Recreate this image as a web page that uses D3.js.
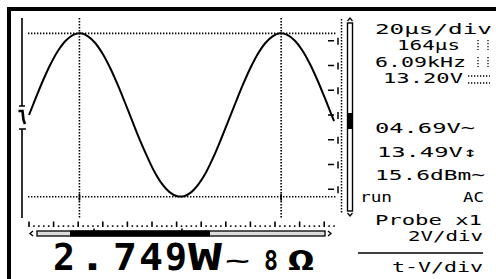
<!DOCTYPE html>
<html>
<head>
<meta charset="utf-8">
<script src="https://cdn.jsdelivr.net/npm/d3@7.9.0/dist/d3.min.js"></script>
<style>
  html, body { margin: 0; padding: 0; background: #fff; }
  svg { display: block; }
  text { font-family: "DejaVu Sans Mono", monospace; fill: #000; }
</style>
</head>
<body>
<svg id="scope" width="496" height="279"></svg>
<script>
// waveform: time in µs, amplitude in volts
const timeUs = [0, 6, 12, 18, 24, 30, 36, 42, 48, 54, 60, 66, 72, 78, 84, 90, 96, 102, 108, 114,
  120, 126, 132, 138, 144, 150, 156, 162, 168, 174, 180, 186, 192, 198, 204, 210, 216, 222,
  228, 234, 240, 246, 248];
const volts = [0.0, 1.5, 2.93, 4.2, 5.25, 6.02, 6.48, 6.6, 6.36, 5.8, 4.93, 3.8, 2.47, 1.01,
  -0.5, -1.99, -3.35, -4.59, -5.55, -6.21, -6.55, -6.56, -6.23, -5.57, -4.62, -3.39, -1.98,
  -0.5, 1.01, 2.47, 3.8, 4.93, 5.8, 6.36, 6.6, 6.48, 6.02, 5.25, 4.2, 2.93, 1.5, 0.0, -0.5];

// cursors
const cursorTimes = [41, 205];
const cursorVolts = [6.6, -6.6];

// readout panel
const readoutLines = ['20µs/div', '164µs', '6.09kHz', '13.20V', '04.69V~', '13.49V↕',
  '15.6dBm~', 'run', 'AC', 'Probe x1', '2V/div', 't-V/div'];
const bigReading = ['2', '.', '7', '4', '9', 'W'];

const svg = d3.select('#scope');

const x = d3.scaleLinear().domain([0, 250]).range([29, 336.5]);
const y = d3.scaleLinear().domain([-8, 8]).range([214, 16]);

// outer frame
svg.append('rect').attr('x', 7).attr('y', 7).attr('width', 489).attr('height', 4).attr('fill', '#000');
svg.append('rect').attr('x', 7).attr('y', 7).attr('width', 4).attr('height', 272).attr('fill', '#000');

// left axis line with ground marker
const g0 = y(0);
svg.append('path')
  .attr('d', `M22,18V${g0 - 9}M19,${g0 - 9}H25M19,${g0 + 14}H26M22,${g0 + 14}V218`)
  .attr('stroke', '#000').attr('stroke-width', 1.6).attr('fill', 'none');
svg.append('path')
  .attr('d', `M18.5,${g0 - 4}H22.5L23.5,${g0 + 5}L25,${g0 + 9}`)
  .attr('stroke', '#000').attr('stroke-width', 2.6).attr('fill', 'none');

// cursor lines (dotted)
svg.selectAll('.hcur').data(cursorVolts).join('line')
  .attr('x1', 28).attr('x2', 337)
  .attr('y1', d => y(d)).attr('y2', d => y(d))
  .attr('stroke', '#000').attr('stroke-width', 1.6).attr('stroke-dasharray', '1.4 1.6');
svg.selectAll('.vcur').data(cursorTimes).join('line')
  .attr('x1', d => x(d)).attr('x2', d => x(d))
  .attr('y1', 18).attr('y2', 218)
  .attr('stroke', '#000').attr('stroke-width', 1.6).attr('stroke-dasharray', '1.4 1.6');
// small solid marks where cursors cross the bottom line
svg.selectAll('.cross').data(cursorTimes).join('line')
  .attr('x1', d => x(d)).attr('x2', d => x(d))
  .attr('y1', y(-6.6) - 3).attr('y2', y(-6.6) + 4)
  .attr('stroke', '#000').attr('stroke-width', 1.6);

// waveform
const line = d3.line().x((d, i) => x(timeUs[i])).y(d => y(d)).curve(d3.curveCatmullRom);
svg.append('path').datum(volts)
  .attr('d', line)
  .attr('fill', 'none').attr('stroke', '#000').attr('stroke-width', 2);

// bottom time ruler: major tick each division, dots each fifth
const major = d3.range(0, 241, 20);
const minor = d3.range(0, 249, 4).filter(t => t % 20 !== 0);
svg.selectAll('.maj').data(major).join('rect')
  .attr('x', d => x(d) - 0.8).attr('y', 221.5).attr('width', 1.6).attr('height', 5.5).attr('fill', '#000');
svg.selectAll('.min').data(minor).join('rect')
  .attr('x', d => x(d) - 0.8).attr('y', 225.3).attr('width', 1.6).attr('height', 1.6).attr('fill', '#000');

// horizontal scroll bar
svg.append('path').attr('d', 'M33,231L30,233.5L33,236').attr('stroke', '#000').attr('stroke-width', 1.3).attr('fill', 'none');
svg.append('rect').attr('x', 37).attr('y', 231).attr('width', 288).attr('height', 5)
  .attr('fill', '#ddd').attr('stroke', '#000').attr('stroke-width', 1.3);
svg.append('rect').attr('x', 70).attr('y', 230.5).attr('width', 140).attr('height', 6).attr('fill', '#000');
svg.selectAll('.notch').data([94, 182]).join('rect')
  .attr('x', d => d - 0.8).attr('y', 228.5).attr('width', 1.6).attr('height', 2.5).attr('fill', '#000');
svg.append('path').attr('d', 'M328,231L331,233.5L328,236').attr('stroke', '#000').attr('stroke-width', 1.3).attr('fill', 'none');

// right voltage ruler (dotted column + division ticks)
svg.append('line').attr('x1', 341.5).attr('x2', 341.5).attr('y1', 19).attr('y2', 214)
  .attr('stroke', '#000').attr('stroke-width', 1.5).attr('stroke-dasharray', '1.4 1.6');
const vTicks = d3.range(-6, 7, 2);
svg.selectAll('.vt').data(vTicks).join('path')
  .attr('d', d => `M328,${y(d)}H334M338,${y(d) - 3}V${y(d) + 4}`)
  .attr('stroke', '#000').attr('stroke-width', 1.5);

// vertical scroll bar
svg.append('path').attr('d', 'M347.5,21L350,18L352.5,21').attr('stroke', '#000').attr('stroke-width', 1.2).attr('fill', 'none');
svg.append('rect').attr('x', 347.5).attr('y', 23).attr('width', 5).attr('height', 188)
  .attr('fill', '#fff').attr('stroke', '#000').attr('stroke-width', 1.4);
svg.append('rect').attr('x', 347).attr('y', y(0) - 2).attr('width', 6).attr('height', 16).attr('fill', '#000');
svg.append('path').attr('d', 'M347.5,213L350,216L352.5,213').attr('stroke', '#000').attr('stroke-width', 1.2).attr('fill', 'none');

// readout text placement: [x, baseline, width]
const place = [
  [375, 34, 117], [397, 50, 63], [375, 66.5, 91], [383, 83, 80], [375, 133, 100], [377, 157, 100],
  [375, 180, 110], [360, 202, 32], [463, 202, 21], [375, 225, 107], [408, 241, 75], [392, 272, 91]
];
svg.selectAll('.ro').data(readoutLines).join('text')
  .attr('x', (d, i) => place[i][0]).attr('y', (d, i) => place[i][1])
  .attr('textLength', (d, i) => place[i][2]).attr('lengthAdjust', 'spacingAndGlyphs')
  .attr('font-size', 14)
  .text(d => d);

// dotted status markers next to readouts
const dotCols = [[478, 40, 50], [488, 40, 50], [478, 57, 67], [488, 57, 67]];
svg.selectAll('.dc').data(dotCols).join('line')
  .attr('x1', d => d[0]).attr('x2', d => d[0]).attr('y1', d => d[1]).attr('y2', d => d[2])
  .attr('stroke', '#000').attr('stroke-width', 1.3).attr('stroke-dasharray', '1.3 1.7');
const dotRows = [[468, 490, 76], [468, 490, 83]];
svg.selectAll('.dr').data(dotRows).join('line')
  .attr('x1', d => d[0]).attr('x2', d => d[1]).attr('y1', d => d[2]).attr('y2', d => d[2])
  .attr('stroke', '#000').attr('stroke-width', 1.3).attr('stroke-dasharray', '1.3 1.7');

svg.append('line').attr('x1', 358).attr('x2', 483).attr('y1', 253).attr('y2', 253)
  .attr('stroke', '#000').attr('stroke-width', 1.6);

// big power reading, one glyph per display cell: [x, width]
const cells = [[53, 22], [79, 27], [113, 24], [139, 24], [165, 22], [188, 34]];
svg.selectAll('.big').data(bigReading).join('text')
  .attr('x', (d, i) => cells[i][0]).attr('y', 270)
  .attr('font-size', 38).attr('font-weight', 'bold')
  .attr('textLength', (d, i) => cells[i][1]).attr('lengthAdjust', 'spacingAndGlyphs')
  .text(d => d);
svg.append('text').attr('x', 225).attr('y', 268).attr('font-size', 22).attr('font-weight', 'bold')
  .attr('textLength', 25).attr('lengthAdjust', 'spacingAndGlyphs').text('~');
svg.append('text').attr('x', 264).attr('y', 270).attr('font-size', 27).attr('font-weight', 'bold')
  .attr('textLength', 14).attr('lengthAdjust', 'spacingAndGlyphs').text('8');
svg.append('text').attr('x', 287).attr('y', 270).attr('font-size', 27).attr('font-weight', 'bold')
  .attr('textLength', 28).attr('lengthAdjust', 'spacingAndGlyphs').text('Ω');
</script>
</body>
</html>
